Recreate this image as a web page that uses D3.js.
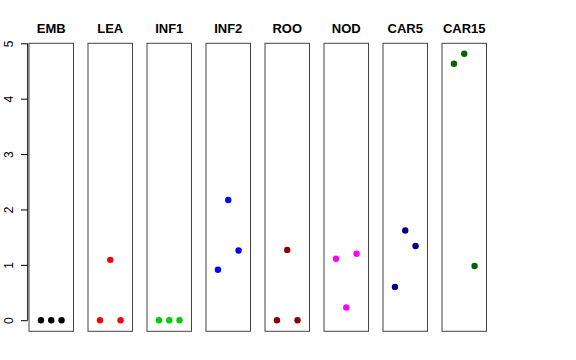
<!DOCTYPE html>
<html>
<head>
<meta charset="utf-8">
<script src="https://cdn.jsdelivr.net/npm/d3@7"></script>
<style>
  body { margin: 0; background: #fff; }
  svg { display: block; font-family: "Liberation Sans", Arial, sans-serif; }
</style>
</head>
<body>
<svg id="chart"></svg>
<script>
// one panel per tissue, three replicates each
const tissues = ["EMB", "LEA", "INF1", "INF2", "ROO", "NOD", "CAR5", "CAR15"];
const colors = ["#000000", "#ff0000", "#00cd00", "#0000ff", "#8b0000", "#ff00ff", "#00008b", "#006400"];
const replicates = [1, 2, 3];
const values = [
  [0, 0, 0],
  [0, 1.09, 0],
  [0, 0, 0],
  [0.91, 2.17, 1.26],
  [0, 1.27, 0],
  [1.11, 0.23, 1.2],
  [0.6, 1.62, 1.34],
  [4.63, 4.81, 0.98]
];
const yTicks = [0, 1, 2, 3, 4, 5];

const width = 576;
const height = 360;
const panelLeft = 29;
const panelStep = 59;
const panelWidth = 44.5;
const panelTop = 43.3;
const panelBottom = 331.3;

const svg = d3.select("#chart")
  .attr("width", width)
  .attr("height", height)
  .attr("viewBox", [0, 0, width, height]);

const y = d3.scaleLinear([-0.2, 5], [panelBottom, panelTop]);
const x = d3.scaleLinear([-0.16, 4.16], [0, panelWidth]);

// y axis on the first panel only
svg.append("g")
  .attr("transform", `translate(27.7,0)`)
  .call(d3.axisLeft(y).tickValues(yTicks).tickSize(6.7).tickFormat(d3.format("d")))
  .call(g => g.select(".domain").attr("d", `M0,${y(0)}V${y(5)}`).attr("stroke", "#000"))
  .call(g => g.selectAll(".tick line").attr("stroke", "#000"))
  .call(g => g.selectAll(".tick text")
    .attr("transform", "rotate(-90)")
    .attr("x", 0)
    .attr("y", -14.4)
    .attr("dy", 0)
    .attr("text-anchor", "middle")
    .attr("font-size", 12)
    .attr("fill", "#000"));

tissues.forEach((name, i) => {
  const g = svg.append("g")
    .attr("transform", `translate(${panelLeft + i * panelStep},0)`);

  g.append("rect")
    .attr("x", 0)
    .attr("y", panelTop)
    .attr("width", panelWidth)
    .attr("height", panelBottom - panelTop)
    .attr("fill", "none")
    .attr("stroke", "#444")
    .attr("stroke-width", 1);

  g.append("text")
    .attr("x", panelWidth / 2)
    .attr("y", 33)
    .attr("text-anchor", "middle")
    .attr("font-size", 13)
    .attr("font-weight", "bold")
    .text(name);

  g.selectAll("circle")
    .data(values[i])
    .join("circle")
    .attr("cx", (d, j) => x(replicates[j]))
    .attr("cy", d => y(d))
    .attr("r", 3.2)
    .attr("fill", colors[i]);
});
</script>
</body>
</html>
